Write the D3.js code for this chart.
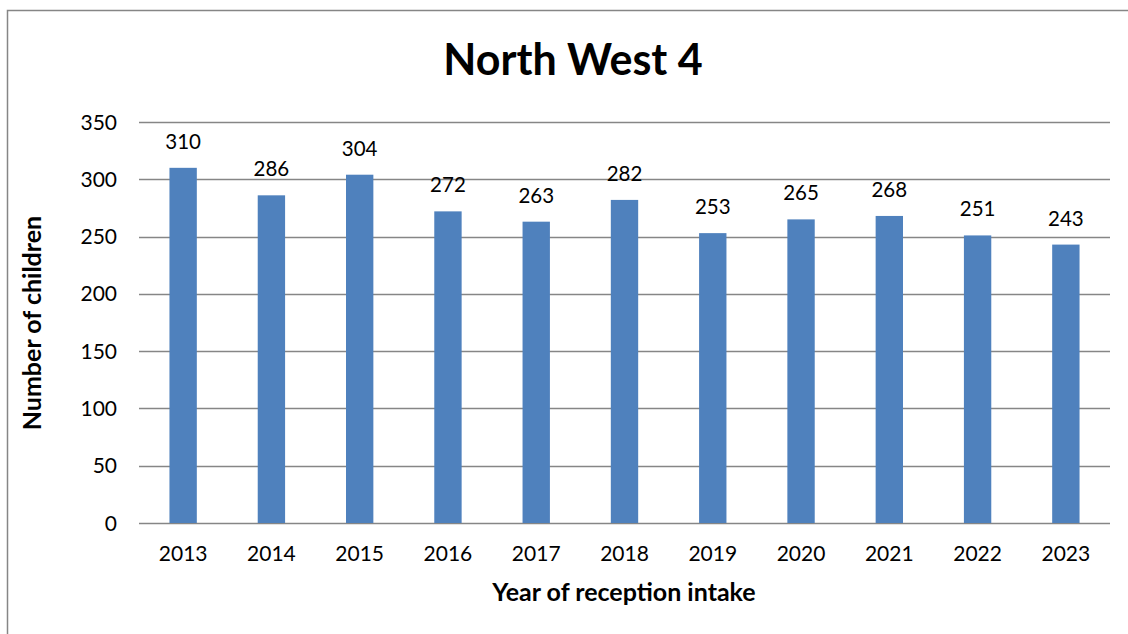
<!DOCTYPE html>
<html>
<head>
<meta charset="utf-8">
<script src="https://cdn.jsdelivr.net/npm/d3@7"></script>
<style>
  body { margin: 0; background: #fff; }
  svg { display: block; font-family: Lato, "Open Sans", sans-serif; }
</style>
</head>
<body>
<svg id="svg"></svg>
<script>
const width = 1128;
const height = 634;

// chart data
const years = ["2013", "2014", "2015", "2016", "2017", "2018", "2019", "2020", "2021", "2022", "2023"];
const children = [310, 286, 304, 272, 263, 282, 253, 265, 268, 251, 243];
const yTicks = [0, 50, 100, 150, 200, 250, 300, 350];

const plot = { left: 139, right: 1110, top: 122, bottom: 523 };

let svg = d3.select("#svg").attr("width", width).attr("height", height);

// outer chart border (runs off the right and bottom edges)
svg.append("rect")
    .attr("x", 7.5).attr("y", 10.5)
    .attr("width", 1200).attr("height", 700)
    .attr("fill", "none")
    .attr("stroke", "#868686")
    .attr("stroke-width", 1.5);

let x = d3.scaleBand()
    .domain(years)
    .range([plot.left, plot.right])
    .paddingInner(0.69)
    .paddingOuter(0.345);

let y = d3.scaleLinear()
    .domain([0, 350])
    .range([plot.bottom, plot.top]);

// gridlines
svg.append("g")
    .selectAll("line")
    .data(yTicks)
    .join("line")
    .attr("x1", plot.left)
    .attr("x2", plot.right)
    .attr("y1", d => Math.round(y(d)) + 0.5)
    .attr("y2", d => Math.round(y(d)) + 0.5)
    .attr("stroke", "#868686")
    .attr("stroke-width", 1.3);

// y tick labels
svg.append("g")
    .selectAll("text")
    .data(yTicks)
    .join("text")
    .attr("x", 117)
    .attr("y", d => y(d))
    .attr("dy", "0.36em")
    .attr("text-anchor", "end")
    .style("font-size", "21px")
    .style("fill", "#000")
    .text(d => d);

// bars
svg.append("g")
    .selectAll("rect")
    .data(children)
    .join("rect")
    .attr("x", (d, i) => x(years[i]))
    .attr("y", d => y(d))
    .attr("width", x.bandwidth())
    .attr("height", d => y(0) - y(d))
    .attr("fill", "#4F81BD");

// value labels
svg.append("g")
    .selectAll("text")
    .data(children)
    .join("text")
    .attr("x", (d, i) => x(years[i]) + x.bandwidth() / 2)
    .attr("y", d => y(d) - 19)
    .attr("text-anchor", "middle")
    .style("font-size", "20.5px")
    .style("fill", "#000")
    .text(d => d);

// x tick labels
svg.append("g")
    .selectAll("text")
    .data(years)
    .join("text")
    .attr("x", d => x(d) + x.bandwidth() / 2)
    .attr("y", 561)
    .attr("text-anchor", "middle")
    .style("font-size", "21px")
    .style("fill", "#000")
    .text(d => d);

// titles
svg.append("text")
    .attr("x", 573)
    .attr("y", 75)
    .attr("text-anchor", "middle")
    .style("font-size", "43px")
    .style("font-weight", "bold")
    .text("North West 4");

svg.append("text")
    .attr("x", 624)
    .attr("y", 601)
    .attr("text-anchor", "middle")
    .style("font-size", "25px")
    .style("font-weight", "bold")
    .text("Year of reception intake");

svg.append("text")
    .attr("transform", "translate(41,323) rotate(-90)")
    .attr("text-anchor", "middle")
    .style("font-size", "25px")
    .style("font-weight", "bold")
    .text("Number of children");
</script>
</body>
</html>
